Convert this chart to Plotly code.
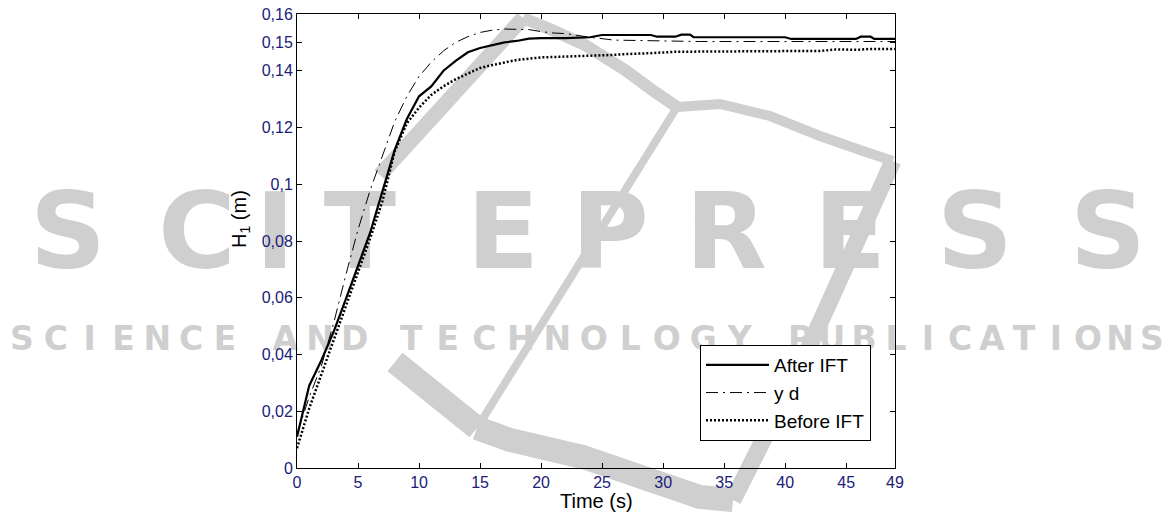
import plotly.graph_objects as go

# ---------------- data ----------------
t_after = [0, 0.5, 1, 2, 3, 4, 5, 6, 7, 8, 9, 10, 11, 12, 13, 14, 15, 16, 17, 18, 19, 20,
           22, 24, 25, 29, 29.5, 31, 31.5, 32.2, 32.5, 40, 40.5, 45.8, 46.2, 47, 47.3, 49]
h_after = [0.011, 0.020, 0.029, 0.038, 0.048, 0.0595, 0.071, 0.083, 0.0975, 0.112, 0.123, 0.131,
           0.1345, 0.140, 0.1435, 0.1465, 0.148, 0.149, 0.150, 0.1505, 0.1513, 0.1515,
           0.1515, 0.1518, 0.1526, 0.1526, 0.152, 0.152, 0.1527, 0.1527, 0.1518, 0.1518,
           0.1512, 0.1512, 0.152, 0.152, 0.1512, 0.1512]

t_yd = [0, 1, 2, 3, 4, 5, 6, 7, 8, 9, 10, 11, 12, 13, 14, 15, 16, 17, 18, 19, 20, 21, 22,
        24, 26, 28, 31, 33, 49]
h_yd = [0.012, 0.025, 0.036, 0.051, 0.068, 0.084, 0.098, 0.110, 0.122, 0.131, 0.138, 0.143,
        0.147, 0.150, 0.152, 0.1535, 0.1543, 0.1547, 0.1547, 0.1545, 0.1538, 0.1533, 0.1531,
        0.1518, 0.1508, 0.1506, 0.1505, 0.1503, 0.1503]

t_before = [0, 0.5, 1, 2, 3, 4, 5, 6, 7, 8, 9, 10, 11, 12, 13, 14, 15, 16, 17, 18, 20, 22,
            24, 26, 27, 29, 31, 35, 40, 43, 44, 46, 47, 49]
h_before = [0.007, 0.014, 0.021, 0.033, 0.045, 0.057, 0.069, 0.081, 0.094, 0.1115, 0.1215,
            0.127, 0.1315, 0.1345, 0.137, 0.139, 0.141, 0.142, 0.143, 0.1438, 0.1447, 0.1451,
            0.1453, 0.1456, 0.1459, 0.1462, 0.1467, 0.1468, 0.147, 0.147, 0.1475, 0.1474,
            0.1477, 0.1477]

x_ticks = [0, 5, 10, 15, 20, 25, 30, 35, 40, 45, 49]
y_ticks = [0, 0.02, 0.04, 0.06, 0.08, 0.1, 0.12, 0.14, 0.15, 0.16]
y_tick_text = ["0", "0,02", "0,04", "0,06", "0,08", "0,1", "0,12", "0,14", "0,15", "0,16"]

series_names = ["After IFT", "y d", "Before IFT"]

# ---------------- geometry ----------------
W, H = 1171, 517
PX_L, PX_R, PX_T, PX_B = 297, 895, 14, 468   # plot area in page pixels
XMAX, YMAX = 49, 0.16

def paper(px, py):
    return px / W, 1 - py / H

WM = "#cfcfcf"
fig = go.Figure()

# ---------------- watermark (background, page-pixel axes x/y) ----------------
big_letters = list("SCITEPRESS")
big_cx = [68, 197, 275, 360, 503, 610, 726, 850, 975, 1108]
fig.add_trace(go.Scatter(x=big_cx, y=[241] * len(big_cx), text=big_letters, mode="text",
                         textfont=dict(family="DejaVu Sans", size=106, color=WM, weight="bold"),
                         showlegend=False, hoverinfo="skip", xaxis="x", yaxis="y"))

words = [("SCIENCE", 5, 242), ("AND", 268, 372), ("TECHNOLOGY", 393, 758), ("PUBLICATIONS", 784, 1168)]
sx, st = [], []
for w, a, b in words:
    n = len(w)
    for i, ch in enumerate(w):
        sx.append(a + (i + 0.5) * (b - a) / n)
        st.append(ch)
fig.add_trace(go.Scatter(x=sx, y=[342] * len(sx), text=st, mode="text",
                         textfont=dict(family="DejaVu Sans", size=33, color=WM, weight="bold"),
                         showlegend=False, hoverinfo="skip", xaxis="x", yaxis="y"))

def path(pts):
    return " ".join(("M" if i == 0 else "L") + f"{px},{py}" for i, (px, py) in enumerate(pts))

swoosh = [
    ([(380, 175), (523, 18)], 15),
    ([(523, 18), (552, 30), (585, 45), (625, 70), (655, 92), (677, 107)], 12),
    ([(677, 107), (720, 104), (770, 116), (820, 136), (860, 150), (893, 161)], 10),
    ([(677, 107), (477, 428)], 8),
    ([(395, 362), (477, 428)], 24),
    ([(477, 428), (510, 440), (583, 457), (650, 480), (700, 497), (733, 500)], 24),
    ([(733, 500), (800, 367), (893, 161)], 17),
]
for pts, wdt in swoosh:
    fig.add_shape(type="path", path=path(pts), xref="x", yref="y",
                  line=dict(color=WM, width=wdt), layer="below")

# ---------------- data traces (axes x2/y2) ----------------
fig.add_trace(go.Scatter(x=t_after, y=h_after, mode="lines", name=series_names[0],
                         line=dict(color="black", width=2.2), xaxis="x2", yaxis="y2"))
fig.add_trace(go.Scatter(x=t_yd, y=h_yd, mode="lines", name=series_names[1],
                         line=dict(color="black", width=1, dash="12px,5px,2px,5px"),
                         xaxis="x2", yaxis="y2"))
fig.add_trace(go.Scatter(x=t_before, y=h_before, mode="lines", name=series_names[2],
                         line=dict(color="black", width=2.5, dash="2px,2px"),
                         xaxis="x2", yaxis="y2"))

tickfont = dict(family="Liberation Sans, Arial", size=16, color="#202078")
fx0, fy0 = paper(PX_L, PX_B)
fx1, fy1 = paper(PX_R, PX_T)
lx, ly = paper(871, 441)
fig.update_layout(
    width=W, height=H,
    margin=dict(l=0, r=0, t=0, b=0, pad=0, autoexpand=False),
    paper_bgcolor="white", plot_bgcolor="rgba(0,0,0,0)",
    showlegend=True,
    legend=dict(x=lx, y=ly, xanchor="right", yanchor="bottom",
                bgcolor="white", bordercolor="black", borderwidth=1, itemwidth=63,
                font=dict(family="Liberation Sans, Arial", size=19, color="black"),
                tracegroupgap=0),
    xaxis=dict(domain=[0, 1], range=[0, W], visible=False, fixedrange=True),
    yaxis=dict(domain=[0, 1], range=[H, 0], visible=False, fixedrange=True),
    xaxis2=dict(domain=[fx0, fx1], anchor="y2", range=[0, XMAX], tickvals=x_ticks,
                ticktext=[str(v) for v in x_ticks], automargin=False,
                ticks="inside", ticklen=5, tickcolor="black", showline=True, linecolor="black",
                linewidth=1, mirror="ticks", showgrid=False, zeroline=False, tickfont=tickfont),
    yaxis2=dict(domain=[fy0, fy1], anchor="x2", range=[0, YMAX], tickvals=y_ticks,
                ticktext=y_tick_text, automargin=False,
                ticks="inside", ticklen=5, tickcolor="black", showline=True, linecolor="black",
                linewidth=1, mirror="ticks", showgrid=False, zeroline=False, tickfont=tickfont),
    annotations=[
        dict(text="Time (s)", xref="paper", yref="paper", x=paper(596, 0)[0], y=paper(0, 501)[1],
             xanchor="center", yanchor="middle", showarrow=False,
             font=dict(family="Liberation Sans, Arial", size=20, color="black")),
        dict(text="H<sub>1</sub> (m)", xref="paper", yref="paper", x=paper(240, 0)[0],
             y=paper(0, 219)[1], xanchor="center", yanchor="middle", textangle=-90,
             showarrow=False, font=dict(family="Liberation Sans, Arial", size=20, color="black")),
    ],
)

fig.write_html("out.html")
